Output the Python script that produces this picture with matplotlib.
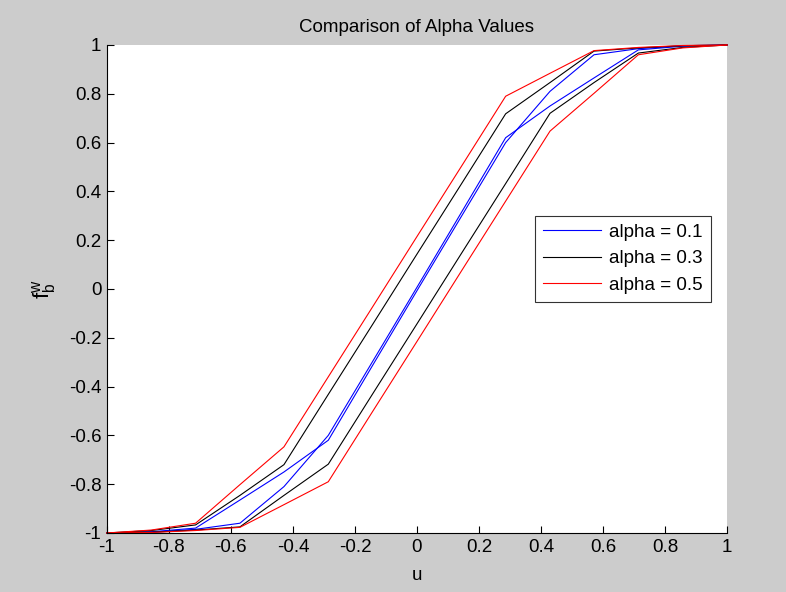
import matplotlib
matplotlib.use("Agg")
import matplotlib.pyplot as plt
from matplotlib.ticker import FixedLocator, FuncFormatter

plt.rcParams['font.family'] = ['Liberation Sans', 'DejaVu Sans']
plt.rcParams['axes.unicode_minus'] = False
plt.rcParams['mathtext.default'] = 'regular'

# sample grid of u
u = [-1.0, -0.857, -0.714, -0.571, -0.429, -0.286, -0.143, 0.0,
     0.143, 0.286, 0.429, 0.571, 0.714, 0.857, 1.0]

# alpha = 0.1 (two branches)
blue_a = [-1.0, -0.995, -0.98, -0.865, -0.75, -0.62, -0.313, -0.007,
          0.297, 0.60, 0.81, 0.96, 0.985, 0.997, 1.0]
blue_b = [-1.0, -0.997, -0.985, -0.96, -0.81, -0.60, -0.297, 0.007,
          0.313, 0.62, 0.75, 0.865, 0.98, 0.995, 1.0]

# alpha = 0.3
black_up = [-1.0, -0.99, -0.967, -0.846, -0.72, -0.432, -0.145, 0.143,
            0.43, 0.718, 0.846, 0.975, 0.988, 0.997, 1.0]
black_lo = [-1.0, -0.997, -0.988, -0.975, -0.846, -0.718, -0.43, -0.143,
            0.145, 0.432, 0.72, 0.846, 0.967, 0.99, 1.0]

# alpha = 0.5
red_up = [-1.0, -0.988, -0.96, -0.802, -0.647, -0.36, -0.073, 0.215,
          0.502, 0.79, 0.884, 0.977, 0.99, 0.998, 1.0]
red_lo = [-1.0, -0.998, -0.99, -0.977, -0.884, -0.79, -0.502, -0.215,
          0.073, 0.36, 0.647, 0.802, 0.96, 0.988, 1.0]

labels = ['alpha = 0.1', 'alpha = 0.3', 'alpha = 0.5']
ticks = [-1, -0.8, -0.6, -0.4, -0.2, 0, 0.2, 0.4, 0.6, 0.8, 1]

bg = '#cccccc'
fig = plt.figure(figsize=(7.86, 5.92), dpi=100, facecolor=bg)
ax = fig.add_axes([0.136, 0.0997, 0.789, 0.8243])
ax.set_facecolor('white')

lw = 0.8
l1, = ax.plot(u, blue_a, color=(0, 0, 1), lw=lw, clip_on=False)
ax.plot(u, blue_b, color=(0, 0, 1), lw=lw, clip_on=False)
l2, = ax.plot(u, black_up, color='black', lw=lw, clip_on=False)
ax.plot(u, black_lo, color='black', lw=lw, clip_on=False)
l3, = ax.plot(u, red_up, color=(1, 0, 0), lw=lw, clip_on=False)
ax.plot(u, red_lo, color=(1, 0, 0), lw=lw, clip_on=False)

ax.set_xlim(-1, 1)
ax.set_ylim(-1, 1)
fmt = FuncFormatter(lambda v, p: ('%g' % round(v, 2)))
ax.xaxis.set_major_locator(FixedLocator(ticks))
ax.yaxis.set_major_locator(FixedLocator(ticks))
ax.xaxis.set_major_formatter(fmt)
ax.yaxis.set_major_formatter(fmt)
ax.tick_params(direction='in', length=5, width=0.8, labelsize=13.5, pad=4,
               colors='black')
for s in ['top', 'right']:
    ax.spines[s].set_visible(False)
for s in ['left', 'bottom']:
    ax.spines[s].set_linewidth(0.8)

ax.set_title('Comparison of Alpha Values', fontsize=13.5, pad=9)
ax.set_xlabel('u', fontsize=13.5, labelpad=8)
ax.set_ylabel(r'$f_b^w$', fontsize=16, labelpad=8)

leg = ax.legend([l1, l2, l3], labels, loc='upper left',
                bbox_to_anchor=(0.69, 0.65), borderaxespad=0,
                fontsize=13.5, frameon=True, fancybox=False,
                edgecolor='black', handlelength=3.1, handletextpad=0.45,
                labelspacing=0.5, borderpad=0.42)
leg.get_frame().set_linewidth(0.8)

fig.savefig('out.png', dpi=100, facecolor=bg)
